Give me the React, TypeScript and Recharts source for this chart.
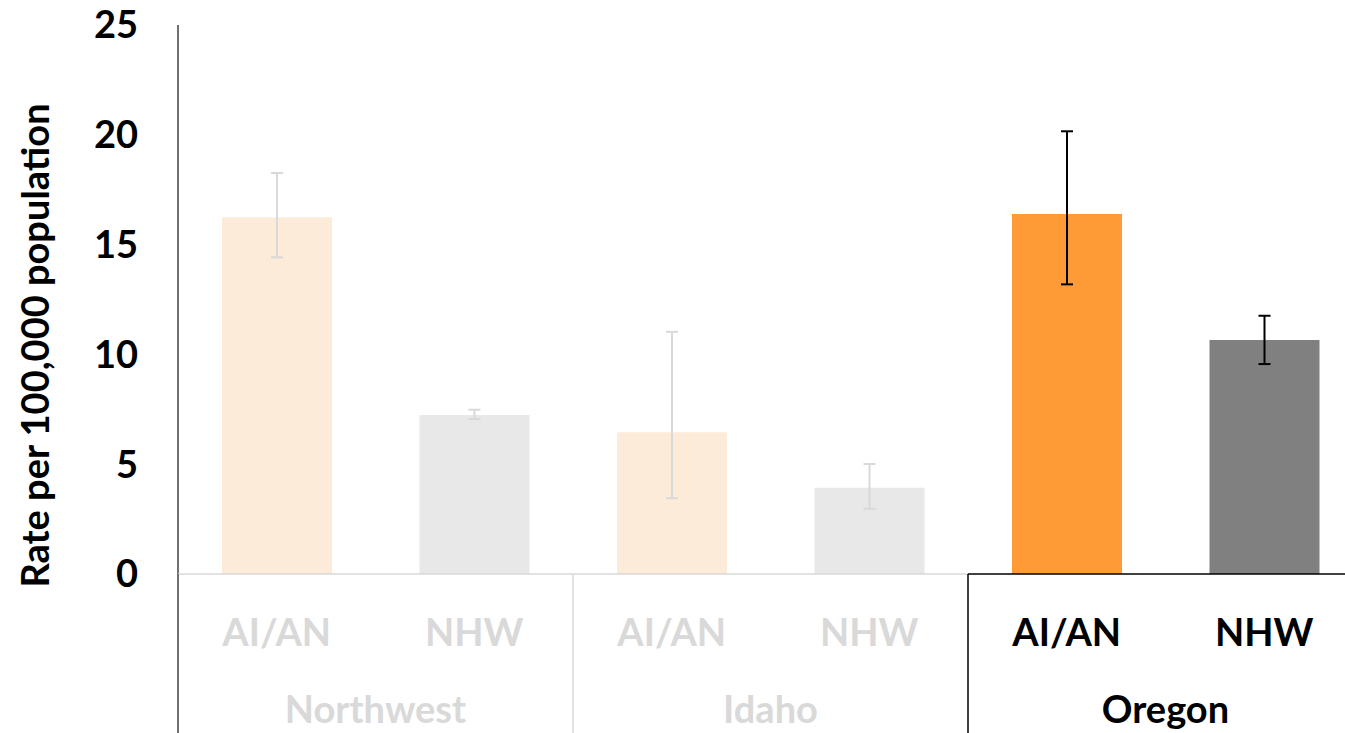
import React from "react";
import { BarChart, Bar, XAxis, YAxis, Cell, ErrorBar } from "recharts";

const categories = ["AI/AN", "NHW", "AI/AN", "NHW", "AI/AN", "NHW"];
const groups = ["Northwest", "Idaho", "Oregon"];
const rates = [16.24, 7.24, 6.45, 3.93, 16.39, 10.66];
const lower = [14.42, 7.06, 3.45, 2.97, 13.19, 9.56];
const upper = [18.26, 7.48, 11.03, 5.01, 20.16, 11.76];
const yTicks = [0, 5, 10, 15, 20, 25];

// the last group is highlighted, the others are faded
const HIGHLIGHT = 2;
const FONT = "Lato, 'Open Sans', sans-serif";
const FADED_TEXT = "#D9D9D9";

const barColor = (i: number) => {
  const g = Math.floor(i / 2);
  const aian = i % 2 === 0;
  if (g === HIGHLIGHT) return aian ? "#FF9B37" : "#808080";
  return aian ? "#FDEBDA" : "#E8E8E8";
};

const data = categories.map((c, i) => ({
  key: `${groups[Math.floor(i / 2)]} ${c}`,
  label: c,
  group: Math.floor(i / 2),
  rate: rates[i],
  errLight: Math.floor(i / 2) === HIGHLIGHT ? null : [rates[i] - lower[i], upper[i] - rates[i]],
  errDark: Math.floor(i / 2) === HIGHLIGHT ? [rates[i] - lower[i], upper[i] - rates[i]] : null,
}));

const CategoryTick = (props: any) => {
  const { x, y, index, payload } = props;
  const half = payload.offset;
  const d = data[index];
  const hi = d.group === HIGHLIGHT;
  const color = hi ? "#000" : FADED_TEXT;
  const first = index % 2 === 0;
  return (
    <g>
      <text
        x={x}
        y={y + 57}
        textAnchor="middle"
        dominantBaseline="central"
        fontFamily={FONT}
        fontWeight="bold"
        fontSize={38}
        fill={color}
      >
        {d.label}
      </text>
      {first && (
        <>
          <line x1={x - half} x2={x + 3 * half} y1={y} y2={y} stroke={hi ? "#000" : "#D9D9D9"} strokeWidth={1.5} />
          {index > 0 && (
            <line x1={x - half} x2={x - half} y1={y} y2={y + 170} stroke={hi ? "#000" : "#D9D9D9"} strokeWidth={1.5} />
          )}
          {index === 0 && (
            <line x1={x - half} x2={x - half} y1={y} y2={y + 170} stroke="#404040" strokeWidth={1.5} />
          )}
          <text
            x={x + half}
            y={y + 134}
            textAnchor="middle"
            dominantBaseline="central"
            fontFamily={FONT}
            fontWeight="bold"
            fontSize={38}
            fill={color}
          >
            {groups[d.group]}
          </text>
        </>
      )}
    </g>
  );
};

const YLabel = (props: any) => {
  const { viewBox } = props;
  const cx = viewBox.x + 34;
  const cy = viewBox.y + viewBox.height / 2 + 46;
  return (
    <text
      x={cx}
      y={cy}
      transform={`rotate(-90 ${cx} ${cy})`}
      textAnchor="middle"
      dominantBaseline="central"
      fontFamily={FONT}
      fontWeight="bold"
      fontSize={38}
      fill="#000"
    >
      Rate per 100,000 population
    </text>
  );
};

export default function App() {
  return (
    <div
      style={{
        position: "absolute",
        left: 0,
        top: 0,
        width: 1345,
        height: 733,
        overflow: "hidden",
        background: "#fff",
      }}
    >
      <BarChart width={1400} height={733} data={data} margin={{ top: 25, right: 37, bottom: 0, left: 0 }}>
        <XAxis
          dataKey="key"
          axisLine={false}
          tickLine={false}
          tickSize={0}
          tickMargin={0}
          height={159}
          interval={0}
          tick={<CategoryTick />}
        />
        <YAxis
          width={178}
          domain={[0, 25]}
          ticks={yTicks}
          axisLine={{ stroke: "#404040", strokeWidth: 1.5 }}
          tickLine={false}
          tickMargin={34}
          tick={{ fontFamily: FONT, fontWeight: "bold", fontSize: 38, fill: "#000" }}
          label={<YLabel />}
        />
        <Bar dataKey="rate" barSize={110} isAnimationActive={false}>
          {data.map((d, i) => (
            <Cell key={d.key} fill={barColor(i)} />
          ))}
          <ErrorBar dataKey="errLight" width={6} stroke="#D9D9D9" strokeWidth={2} isAnimationActive={false} />
          <ErrorBar dataKey="errDark" width={6} stroke="#000" strokeWidth={2} isAnimationActive={false} />
        </Bar>
      </BarChart>
    </div>
  );
}
